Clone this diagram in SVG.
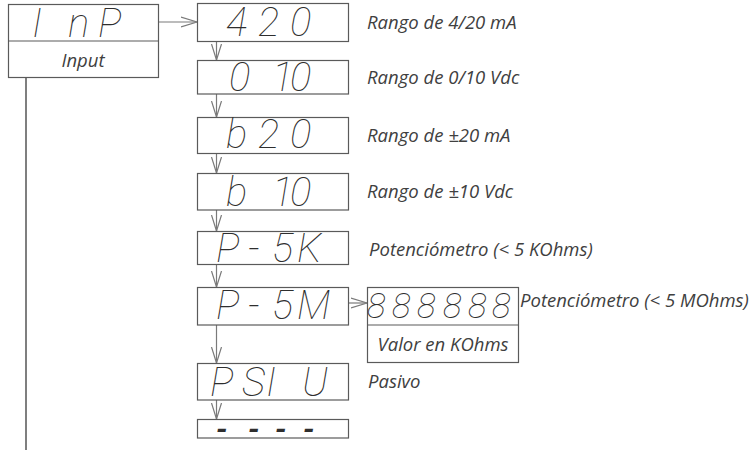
<svg xmlns="http://www.w3.org/2000/svg" width="749" height="450" viewBox="0 0 749 450">
<style>
.box{fill:#fff;stroke:#5a5a5a;stroke-width:1.2}
.seg{font-family:Roboto,"Liberation Sans",sans-serif;font-weight:100;font-style:italic;fill:#2e2e2e}
.d40{font-size:40px}
.d34{font-size:35px}
.lbl{font-family:"Open Sans","Noto Sans","Liberation Sans",sans-serif;font-style:italic;font-size:18.5px;fill:#404040}
.con{stroke:#7a7a7a;stroke-width:1.2;fill:none}
</style>
<defs>
<marker id="v" markerUnits="userSpaceOnUse" markerWidth="20" markerHeight="14" refX="16" refY="6" orient="auto">
<path d="M0,1 L16,6 L0,11" fill="none" stroke="#7a7a7a" stroke-width="1.2"/>
</marker>
</defs>
<g id="connectors">
<line class="con" x1="158" y1="22" x2="197" y2="22" marker-end="url(#v)"/>
<line class="con" x1="216.5" y1="42" x2="216.5" y2="60" marker-end="url(#v)"/>
<line class="con" x1="216.5" y1="94" x2="216.5" y2="117" marker-end="url(#v)"/>
<line class="con" x1="216.5" y1="153" x2="216.5" y2="173" marker-end="url(#v)"/>
<line class="con" x1="216.5" y1="210" x2="216.5" y2="231" marker-end="url(#v)"/>
<line class="con" x1="216.5" y1="265" x2="216.5" y2="287" marker-end="url(#v)"/>
<line class="con" x1="216.5" y1="325" x2="216.5" y2="363" marker-end="url(#v)"/>
<line class="con" x1="216.5" y1="400" x2="216.5" y2="419" marker-end="url(#v)"/>
<line class="con" x1="348" y1="303" x2="367" y2="303" marker-end="url(#v)"/>
<line x1="26" y1="78" x2="26" y2="450" stroke="#555" stroke-width="1.5"/>
</g>
<g id="inp">
<rect class="box" x="8.5" y="4.5" width="150" height="73"/>
<line class="box" x1="8.5" y1="41" x2="158.5" y2="41"/>
<text class="seg d40" x="32 68 98" y="37">InP</text>
<text class="lbl" x="83" y="67" text-anchor="middle">Input</text>
</g>
<g id="n420">
<rect class="box" x="197.5" y="3.5" width="151" height="38"/>
<text class="seg d40" x="226 258 290" y="36">420</text>
<text class="lbl" x="367" y="29">Rango de 4/20 mA</text>
</g>
<g id="n010">
<rect class="box" x="197.5" y="60.5" width="151" height="33.5"/>
<text class="seg d40" x="229 272 290" y="91">010</text>
<text class="lbl" x="367" y="84">Rango de 0/10 Vdc</text>
</g>
<g id="nb20">
<rect class="box" x="197.5" y="117.5" width="151" height="36"/>
<text class="seg d40" x="226 258 290" y="148">b20</text>
<text class="lbl" x="367" y="142">Rango de ±20 mA</text>
</g>
<g id="nb10">
<rect class="box" x="197.5" y="173.5" width="151" height="36.5"/>
<text class="seg d40" x="226 272 290" y="206">b10</text>
<text class="lbl" x="367" y="198">Rango de ±10 Vdc</text>
</g>
<g id="np5k">
<rect class="box" x="197.5" y="231.5" width="151" height="33"/>
<text class="seg d40" x="216 248 272 297" y="262">P-5K</text>
<text class="lbl" x="369" y="256">Potenciómetro (&lt; 5 KOhms)</text>
</g>
<g id="np5m">
<rect class="box" x="197.5" y="287.5" width="151" height="37.5"/>
<text class="seg d40" x="216 248 272 297" y="319">P-5M</text>
</g>
<g id="n888">
<rect class="box" x="367.5" y="287.5" width="151" height="75"/>
<line class="box" x1="367.5" y1="325" x2="518.5" y2="325"/>
<text class="seg d34" x="367 392 417 443 468 492" y="318">888888</text>
<text class="lbl" x="520" y="307">Potenciómetro (&lt; 5 MOhms)</text>
<text class="lbl" x="443" y="351" text-anchor="middle">Valor en KOhms</text>
</g>
<g id="npsiu">
<rect class="box" x="197.5" y="363.5" width="151" height="36.5"/>
<text class="seg d40" x="210 242 266 302" y="396">PSIU</text>
<text class="lbl" x="368" y="388">Pasivo</text>
</g>
<g id="ndash">
<rect class="box" x="197.5" y="419.5" width="151" height="18.5"/>
<text class="seg" style="font-size:30px;font-weight:700" x="216 248 275 303" y="439">----</text>
</g>
</svg>
